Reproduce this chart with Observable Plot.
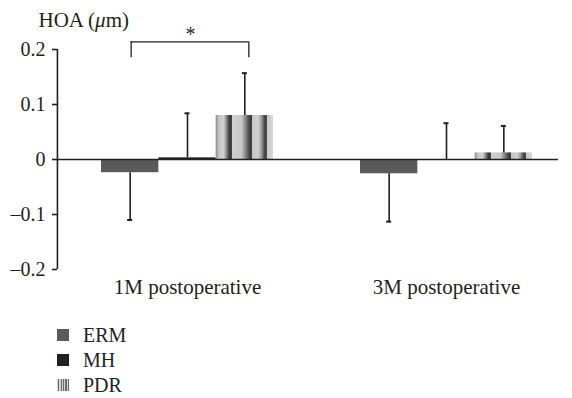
<!DOCTYPE html>
<html><head><meta charset="utf-8">
<script src="https://cdn.jsdelivr.net/npm/d3@7"></script>
<script src="https://cdn.jsdelivr.net/npm/@observablehq/plot@0.6"></script>
<style>
body{margin:0;background:#fff;font-family:"Liberation Serif",serif;color:#231f20;overflow:hidden}
#legend{padding:21px 0 0 57px}
.row{display:flex;align-items:center;height:18px;margin-bottom:7px;font-size:20px;line-height:18px}
.row:last-child{margin-bottom:0}
.sw{width:12px;height:12px;margin-right:14px;flex:none}
</style></head><body><div id="chart"></div><div id="legend"></div>
<script>
// ---- data ----
const groups = ["1M postoperative", "3M postoperative"];
const series = ["ERM", "MH", "PDR"];
const ermMean = [-0.024, -0.026];
const ermSD   = [0.086, 0.087];
const mhMean  = [0.003, 0.000];
const mhSD    = [0.081, 0.066];
const pdrMean = [0.080, 0.012];
const pdrSD   = [0.077, 0.049];
const yTicks = [-0.2, -0.1, 0, 0.1, 0.2];
const yTickLabels = ["\u20130.2", "\u20130.1", "0", "0.1", "0.2"];
const yLabel = "HOA (\u03bcm)";
const sigPair = {group: "1M postoperative", from: "ERM", to: "PDR", y: 0.214, yLeg: 0.185, starY: 0.228, label: "*"};

// ---- layout ----
const W = 572, H = 305, mL = 57, mR = 14, mT = 49, mB = 36;
const pIn = 0.336, pOut = 0.135, align = 0.63;
const step = (W - mR - mL) / (groups.length - pIn + 2 * pOut);
const bw = step * (1 - pIn);
const sub = bw / 3;
const bandStart0 = mL + (W - mR - mL - step * (groups.length - pIn)) * align;
const axisDx = mL - (bandStart0 + bw / 2);

const means = [ermMean, mhMean, pdrMean];
const sds = [ermSD, mhSD, pdrSD];
const fills = ["#5a5a5a", "#231f20", "url(#pdrGrad)"];
const ink = "#231f20";

const rows = [];
series.forEach((s, si) => groups.forEach((g, gi) => {
  const m = means[si][gi], sd = sds[si][gi];
  rows.push({group: g, series: s, mean: m, end: m < 0 ? m - sd : m + sd});
}));

const marks = [];
series.forEach((s, si) => {
  const d = rows.filter(r => r.series === s);
  const dx = (si - 1) * sub;
  marks.push(Plot.barY(d, {x: "group", y: "mean", fill: fills[si], insetLeft: sub, insetRight: sub, dx}));
  marks.push(Plot.ruleX(d, {x: "group", y1: "mean", y2: "end", stroke: ink, strokeWidth: 1.6, dx}));
  marks.push(Plot.tickY(d, {x: "group", y: "end", stroke: ink, strokeWidth: 2, insetLeft: (bw - 5) / 2, insetRight: (bw - 5) / 2, dx}));
});
const fromI = series.indexOf(sigPair.from), toI = series.indexOf(sigPair.to);

const chart = Plot.plot({
  width: W, height: H,
  marginLeft: mL, marginRight: mR, marginTop: mT, marginBottom: mB,
  style: {fontFamily: "Liberation Serif, serif", fontSize: "20px", color: ink, background: "#fff", overflow: "visible"},
  x: {type: "band", domain: groups, range: [mL, W - mR], paddingInner: pIn, paddingOuter: pOut, align, label: null},
  y: {domain: [-0.2, 0.2], label: null},
  marks: [
    ...marks,
    Plot.ruleY([0], {stroke: ink, strokeWidth: 1.6}),
    Plot.ruleX([groups[0]], {x: d => d, y1: -0.2, y2: 0.2, dx: axisDx, stroke: ink, strokeWidth: 1.6}),
    Plot.axisY({ticks: yTicks, tickFormat: d => yTickLabels[yTicks.indexOf(d)], tickSize: 5, tickPadding: 7, stroke: ink, strokeWidth: 1.6, fontSize: 20, label: null}),
    Plot.axisX({tickSize: 0, tickPadding: 10, fontSize: 21, label: null}),
    Plot.text([yLabel], {frameAnchor: "top-left", dx: -19, dy: -29, textAnchor: "start", lineAnchor: "middle", fontSize: 21, fill: ink}),
    Plot.ruleY([sigPair], {x1: "group", x2: "group", y: "y", insetLeft: (fromI) * sub + sub / 2 + 1, insetRight: (2 - toI) * sub + sub / 2 - 4, stroke: ink, strokeWidth: 1.3}),
    Plot.ruleX([sigPair], {x: "group", y1: "yLeg", y2: "y", dx: (fromI - 1) * sub + 1, stroke: ink, strokeWidth: 1.3}),
    Plot.ruleX([sigPair], {x: "group", y1: "yLeg", y2: "y", dx: (toI - 1) * sub + 4, stroke: ink, strokeWidth: 1.3}),
    Plot.text([sigPair], {x: "group", y: "starY", text: "label", dx: 3, fontSize: 20, fill: ink, lineAnchor: "middle"})
  ]
});

// gradient for PDR stripes
const svg = d3.select(chart.tagName.toLowerCase() === "svg" ? chart : chart.querySelector("svg"));
const grad = svg.insert("defs", ":first-child").append("linearGradient").attr("id", "pdrGrad").attr("x1", 0).attr("x2", 1).attr("y1", 0).attr("y2", 0);
[[0, "#8c8c8c"], [0.06, "#c8c8c8"], [0.14, "#d2d2d2"], [0.20, "#777"], [0.24, "#3a3a3a"], [0.28, "#444"],
 [0.28, "#cfcfcf"], [0.45, "#c8c8c8"], [0.52, "#888"], [0.60, "#3a3a3a"], [0.63, "#444"], [0.63, "#c4c4c4"], [0.74, "#cfcfcf"],
 [0.80, "#9a9a9a"], [0.86, "#3c3c3c"], [0.90, "#555"], [0.90, "#c8c8c8"], [1, "#d8d8d8"]]
 .forEach(([o, c]) => grad.append("stop").attr("offset", o).attr("stop-color", c));

// italic mu
svg.selectAll("text").each(function() {
  const t = d3.select(this);
  if (t.text() === yLabel) {
    const parts = yLabel.split("\u03bc");
    t.text(null);
    t.append("tspan").text(parts[0]);
    t.append("tspan").attr("font-style", "italic").text("\u03bc");
    t.append("tspan").text(parts[1]);
  }
});
document.getElementById("chart").appendChild(chart);

// legend
const legend = document.getElementById("legend");
const swatchBg = ["#5a5a5a", "#231f20", "repeating-linear-gradient(90deg,#d4d4d4 0 1.2px,#6a6a6a 1.2px 2.4px)"];
series.forEach((s, si) => {
  const row = document.createElement("div");
  row.className = "row";
  const sw = document.createElement("span");
  sw.className = "sw";
  sw.style.background = swatchBg[si];
  row.appendChild(sw);
  const lab = document.createElement("span");
  lab.textContent = s;
  row.appendChild(lab);
  legend.appendChild(row);
});
</script></body></html>
